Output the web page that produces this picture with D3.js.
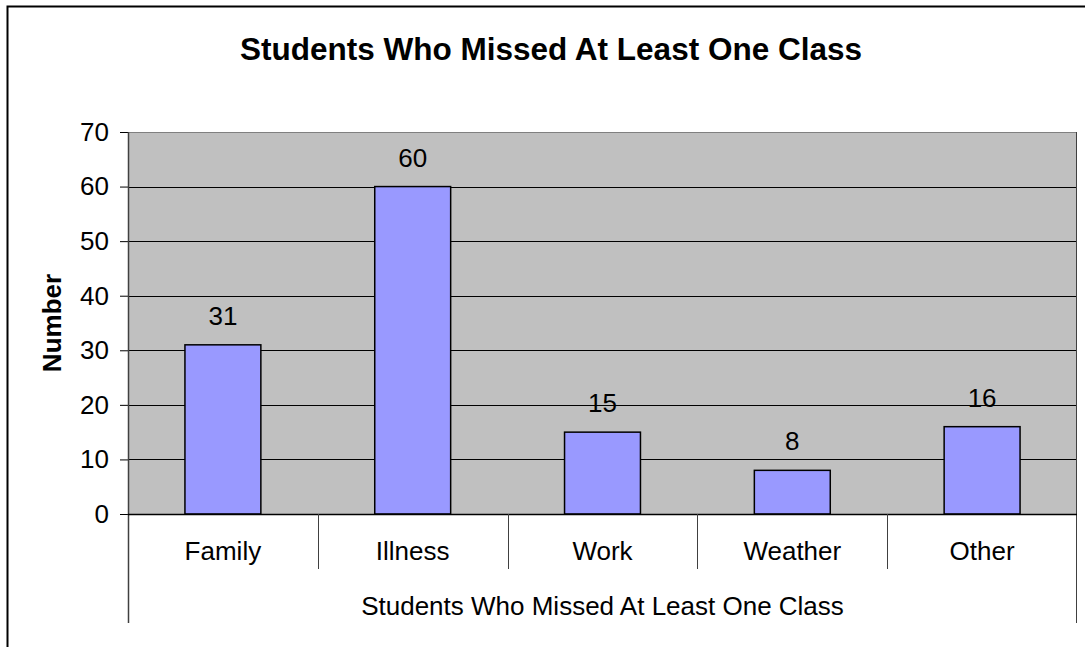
<!DOCTYPE html>
<html>
<head>
<meta charset="utf-8">
<script src="https://cdn.jsdelivr.net/npm/d3@7"></script>
<style>
  body { margin: 0; background: #fff; }
  text { font-family: "Liberation Sans", Arial, sans-serif; fill: #000; }
</style>
</head>
<body>
<script>
// data
var categories = ["Family", "Illness", "Work", "Weather", "Other"];
var values = [31, 60, 15, 8, 16];
var yTicks = [0, 10, 20, 30, 40, 50, 60, 70];
var title = "Students Who Missed At Least One Class";
var xTitle = "Students Who Missed At Least One Class";
var yTitle = "Number";

var width = 1085, height = 647;
var plotLeft = 128, plotRight = 1077, plotTop = 132, plotBottom = 514;

var svg = d3.select("body")
        .append("svg")
        .attr("width", width)
        .attr("height", height);

// outer chart border (right and bottom fall outside the picture)
svg.append("rect")
        .attr("x", 7.5)
        .attr("y", 6.5)
        .attr("width", 1100)
        .attr("height", 700)
        .attr("fill", "#fff")
        .attr("stroke", "#000")
        .attr("stroke-width", 2);

var x = d3.scaleBand()
        .domain(categories)
        .range([plotLeft, plotRight])
        .paddingInner(0.6)
        .paddingOuter(0.3);

var xb = d3.scaleBand()
        .domain(categories)
        .range([plotLeft, plotRight]);

var y = d3.scaleLinear()
        .domain([0, 70])
        .range([plotBottom, plotTop]);

// plot area
svg.append("rect")
        .attr("x", plotLeft)
        .attr("y", plotTop)
        .attr("width", plotRight - plotLeft)
        .attr("height", plotBottom - plotTop)
        .attr("fill", "#C0C0C0");

// gridlines
svg.selectAll(".grid")
        .data(yTicks.filter(function(d) { return d > 0 && d < 70; }))
        .enter()
        .append("line")
        .attr("x1", plotLeft)
        .attr("x2", plotRight)
        .attr("y1", function(d) { return Math.round(y(d)) + 0.5; })
        .attr("y2", function(d) { return Math.round(y(d)) + 0.5; })
        .attr("stroke", "#000")
        .attr("stroke-width", 1);

// top edge of plot
svg.append("line")
        .attr("x1", plotLeft).attr("x2", plotRight)
        .attr("y1", plotTop + 0.5).attr("y2", plotTop + 0.5)
        .attr("stroke", "#808080");

// bars
svg.selectAll(".bar")
        .data(values)
        .enter()
        .append("rect")
        .attr("x", function(d, i) { return x(categories[i]); })
        .attr("y", function(d) { return y(d); })
        .attr("width", x.bandwidth())
        .attr("height", function(d) { return plotBottom - y(d); })
        .attr("fill", "#9999FF")
        .attr("stroke", "#000")
        .attr("stroke-width", 1.5);

// value labels
svg.selectAll(".val")
        .data(values)
        .enter()
        .append("text")
        .attr("x", function(d, i) { return x(categories[i]) + x.bandwidth() / 2; })
        .attr("y", function(d) { return y(d) - 20; })
        .attr("text-anchor", "middle")
        .style("font-size", "26px")
        .text(function(d) { return d; });

// y axis
var yAxis = d3.axisLeft(y)
        .tickValues(yTicks)
        .tickSize(8)
        .tickPadding(11);

var gy = svg.append("g")
        .attr("transform", "translate(" + plotLeft + ",0)")
        .call(yAxis);
gy.select(".domain").remove();
gy.selectAll(".tick line").attr("stroke", "#000");
gy.selectAll(".tick text").style("font-size", "26px").attr("fill", "#000");

svg.append("line")
        .attr("x1", plotLeft + 0.5).attr("x2", plotLeft + 0.5)
        .attr("y1", plotTop).attr("y2", 623)
        .attr("stroke", "#404040")
        .attr("stroke-width", 1.5);

svg.append("line")
        .attr("x1", plotRight - 0.5).attr("x2", plotRight - 0.5)
        .attr("y1", plotTop).attr("y2", 623)
        .attr("stroke", "#404040")
        .attr("stroke-width", 1);

// x axis line
svg.append("line")
        .attr("x1", plotLeft).attr("x2", plotRight)
        .attr("y1", plotBottom + 0.5).attr("y2", plotBottom + 0.5)
        .attr("stroke", "#000")
        .attr("stroke-width", 1.5);

// category dividers
svg.selectAll(".div")
        .data(categories.slice(1))
        .enter()
        .append("line")
        .attr("x1", function(d) { return Math.round(xb(d)) + 0.5; })
        .attr("x2", function(d) { return Math.round(xb(d)) + 0.5; })
        .attr("y1", plotBottom)
        .attr("y2", 569)
        .attr("stroke", "#404040");

// category labels
svg.selectAll(".cat")
        .data(categories)
        .enter()
        .append("text")
        .attr("x", function(d) { return xb(d) + xb.bandwidth() / 2; })
        .attr("y", 560)
        .attr("text-anchor", "middle")
        .style("font-size", "26px")
        .text(function(d) { return d; });

// x title
svg.append("text")
        .attr("x", (plotLeft + plotRight) / 2)
        .attr("y", 615)
        .attr("text-anchor", "middle")
        .style("font-size", "26px")
        .text(xTitle);

// y title
svg.append("text")
        .attr("transform", "translate(61," + ((plotTop + plotBottom) / 2) + ") rotate(-90)")
        .attr("text-anchor", "middle")
        .style("font-size", "26px")
        .style("font-weight", "bold")
        .text(yTitle);

// title
svg.append("text")
        .attr("x", 551)
        .attr("y", 60)
        .attr("text-anchor", "middle")
        .style("font-size", "31.5px")
        .style("font-weight", "bold")
        .text(title);
</script>
</body>
</html>
